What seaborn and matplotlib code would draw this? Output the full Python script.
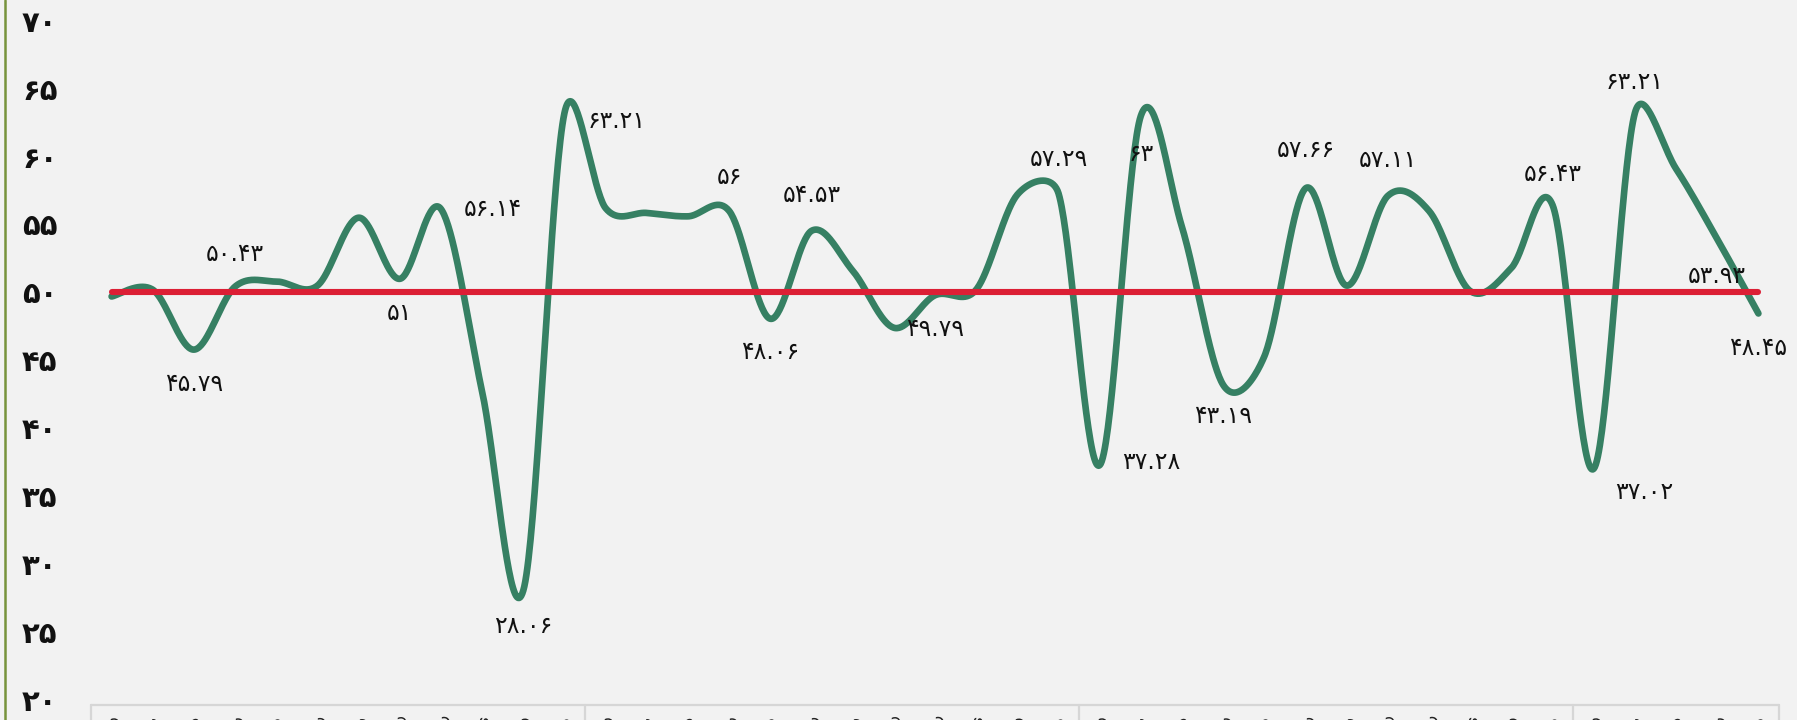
import numpy as np
import pandas as pd
import matplotlib
matplotlib.use("Agg")
import matplotlib.pyplot as plt
import matplotlib.transforms as mtransforms
from matplotlib.lines import Line2D
import seaborn as sns

# ---------------- data ----------------
values = [49.7, 50.2, 45.79, 50.43, 50.8, 50.5, 55.5, 51.0, 56.14, 42.7,
          28.06, 63.21, 56.2, 55.85, 55.6, 56.0, 48.06, 54.53, 51.6, 47.4,
          49.79, 50.2, 57.2, 57.29, 37.28, 63.0, 54.8, 43.19, 45.3, 57.66,
          50.5, 57.11, 56.0, 50.1, 51.8, 56.43, 37.02, 63.21, 59.1, 53.93,
          48.45]
group_sizes = [12, 12, 12, 5]
months = ["فروردین", "اردیبهشت", "خرداد", "تیر", "مرداد", "شهریور",
          "مهر", "آبان", "آذر", "دی", "بهمن", "اسفند"]
threshold = 50
y_ticks = [20, 25, 30, 35, 40, 45, 50, 55, 60, 65, 70]
labeled_points = [2, 3, 7, 8, 10, 11, 15, 16, 17, 20, 23, 24, 25, 27, 29,
                  31, 35, 36, 37, 39, 40]

# ---------------- style ----------------
BG = "#F2F2F2"
GREEN = "#368063"
RED = "#DC1F35"
W, H = 1797, 720
AX_L, AX_R, AX_T, AX_B = 91, 1779, 20.7, 700
YMIN, YMAX = 20, 70

sns.set_theme(style="white")
plt.rcParams['font.family'] = ['DejaVu Sans']

FA = str.maketrans("0123456789", "۰۱۲۳۴۵۶۷۸۹")


def fa(s):
    return str(s).translate(FA)


def smooth(xs, ys, sx, sy, n=40, f=1 / 6):
    """Bezier smoothing (Excel-like, handles clamped to half segment),
    computed in pixel space then mapped back to data units."""
    pts = np.column_stack([np.asarray(xs) * sx, np.asarray(ys) * sy]).astype(float)
    P = np.vstack([pts[0], pts, pts[-1]])
    out = []
    t = np.linspace(0, 1, n, endpoint=False)[:, None]
    for i in range(1, len(P) - 2):
        p0, p1, p2, p3 = P[i - 1], P[i], P[i + 1], P[i + 2]
        d12 = np.linalg.norm(p2 - p1)
        d02 = np.linalg.norm(p2 - p0)
        d13 = np.linalg.norm(p3 - p1)
        f0 = f if d02 * f < d12 / 2 else (d12 / 2) / max(d02, 1e-9)
        f1 = f if d13 * f < d12 / 2 else (d12 / 2) / max(d13, 1e-9)
        c1 = p1 + (p2 - p0) * f0
        c2 = p2 - (p3 - p1) * f1
        b = ((1 - t) ** 3) * p1 + 3 * ((1 - t) ** 2) * t * c1 \
            + 3 * (1 - t) * t ** 2 * c2 + t ** 3 * p2
        out.append(b)
    out.append(pts[-1:])
    res = np.vstack(out)
    return res[:, 0] / sx, res[:, 1] / sy


n = len(values)
xs = np.arange(n)
px_x = (AX_R - AX_L) / n
px_y = (AX_B - AX_T) / (YMAX - YMIN)
cx, cy = smooth(xs, values, px_x, px_y)
df_curve = pd.DataFrame({"x": cx, "y": cy})
df_thr = pd.DataFrame({"x": xs, "y": [threshold] * n})

fig = plt.figure(figsize=(W / 100, H / 100), dpi=100, facecolor=BG)
ax = fig.add_axes([AX_L / W, 1 - AX_B / H, (AX_R - AX_L) / W, (AX_B - AX_T) / H])
ax.set_facecolor(BG)

sns.lineplot(data=df_curve, x="x", y="y", sort=False, estimator=None,
             color=GREEN, linewidth=4.8, ax=ax,
             solid_capstyle="round", solid_joinstyle="round")
sns.lineplot(data=df_thr, x="x", y="y", sort=False, estimator=None,
             color=RED, linewidth=4.4, ax=ax, solid_capstyle="round")

ax.set_xlim(-0.5, n - 0.5)
ax.set_ylim(YMIN, YMAX)
ax.set_yticks(y_ticks)
ax.set_yticklabels([fa(v) for v in y_ticks], fontsize=21, fontweight="bold",
                   color="#111111", ha="left")
ax.tick_params(axis="y", length=0, pad=(AX_L - 22) * 0.72)
ax.set_xticks([])
ax.set_xlabel("")
ax.set_ylabel("")
for s in ax.spines.values():
    s.set_visible(False)

# data labels (offsets in pixels -> points)
offsets = {2: (0, -34, "center"), 3: (0, 33, "center"), 7: (0, -34, "center"),
           8: (23, 0, "left"), 10: (0, -36, "center"), 11: (23, -8, "left"),
           15: (0, 34, "center"), 16: (0, -33, "center"), 17: (0, 36, "center"),
           20: (0, -34, "center"), 23: (0, 34, "center"), 24: (22, 3, "left"),
           25: (0, -38, "center"), 27: (0, -31, "center"), 29: (0, 38, "center"),
           31: (0, 36, "center"), 35: (0, 31, "center"), 36: (21, -23, "left"),
           37: (0, 31, "center"), 39: (0, -37, "center"), 40: (0, -35, "center")}
for i in labeled_points:
    dx, dy, ha = offsets[i]
    ax.annotate(fa(f"{values[i]:g}"), (i, values[i]),
                xytext=(dx * 0.72, dy * 0.72), textcoords="offset points",
                ha=ha, va="center", fontsize=17, color="#111111")

# category axis boxes at the bottom
trans = mtransforms.blended_transform_factory(ax.transData, fig.transFigure)
ytop = 1 - 705 / H
edges = np.concatenate([[0], np.cumsum(group_sizes)]) - 0.5
fig.add_artist(Line2D([edges[0], edges[-1]], [ytop, ytop], transform=trans,
                      color="#D6D6D6", lw=1.6))
for e in edges:
    fig.add_artist(Line2D([e, e], [ytop, 0], transform=trans,
                          color="#D6D6D6", lw=1.6))
for i in range(n):
    fig.text(i, 1 - 715 / H, months[i % 12], transform=trans, rotation=90,
             ha="center", va="top", fontsize=12, color="#222222")

# left border
fig.add_artist(Line2D([4.5 / W, 4.5 / W], [0, 1], transform=fig.transFigure,
                      color="#77933C", lw=1.8))

fig.savefig("out.png", dpi=100, facecolor=BG)
